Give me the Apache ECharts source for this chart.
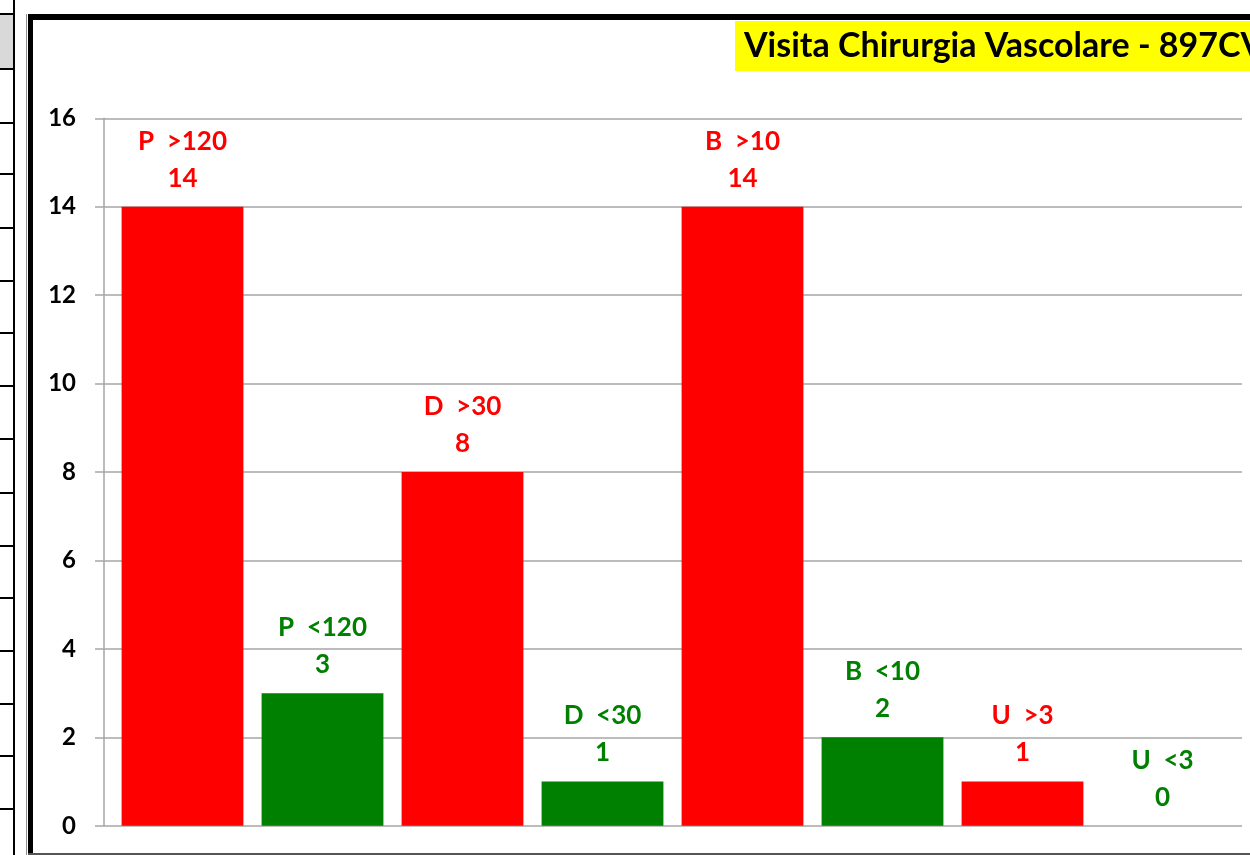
<!DOCTYPE html>
<html>
<head>
<meta charset="utf-8">
<script src="https://cdn.jsdelivr.net/npm/echarts@6/dist/echarts.min.js"></script>
<style>
html,body{margin:0;padding:0;background:#fff;}
#chart{width:1250px;height:855px;}
</style>
</head>
<body>
<div id="chart"></div>
<script>
const categories = ['P  >120', 'P  <120', 'D  >30', 'D  <30', 'B  >10', 'B  <10', 'U  >3', 'U  <3'];
const values = [14, 3, 8, 1, 14, 2, 1, 0];
const barColors = ['#ff0000', '#008000', '#ff0000', '#008000', '#ff0000', '#008000', '#ff0000', '#008000'];
const yTicks = [0, 2, 4, 6, 8, 10, 12, 14, 16];
const titleText = 'Visita Chirurgia Vascolare - 897CV';

const FONT = 'Lato';
const chart = echarts.init(document.getElementById('chart'), null, {renderer: 'canvas'});

// decorative spreadsheet cells on the left
const cellLines = [13, 68, 122, 173, 227, 280, 332, 385, 438, 492, 545, 597, 650, 703, 755, 808];
const graphics = [
  {type: 'rect', shape: {x: 0, y: 13, width: 13, height: 55}, style: {fill: '#d9d9d9'}, silent: true, z: 0},
  {type: 'rect', shape: {x: 13, y: 0, width: 2, height: 855}, style: {fill: '#000'}, silent: true, z: 1}
];
cellLines.forEach(y => graphics.push({type: 'rect', shape: {x: 0, y: y, width: 14, height: 2}, style: {fill: '#000'}, silent: true, z: 1}));
// chart frame
graphics.push({type: 'rect', shape: {x: 26, y: 14, width: 1, height: 841}, style: {fill: '#8c8c8c'}, silent: true, z: 1});
graphics.push({type: 'rect', shape: {x: 28, y: 14, width: 5, height: 841}, style: {fill: '#000'}, silent: true, z: 1});
graphics.push({type: 'rect', shape: {x: 28, y: 14, width: 1222, height: 6}, style: {fill: '#000'}, silent: true, z: 1});
graphics.push({type: 'rect', shape: {x: 28, y: 853, width: 1222, height: 2}, style: {fill: '#555'}, silent: true, z: 1});

const option = {
  backgroundColor: '#fff',
  animation: false,
  title: {
    text: titleText,
    left: 735,
    top: 21,
    padding: [8, 30, 8, 9],
    backgroundColor: '#ffff00',
    textStyle: {fontFamily: FONT, fontWeight: 'bold', fontSize: 34, lineHeight: 34, color: '#000'}
  },
  graphic: graphics,
  grid: [
    {left: 112.5, width: 1120, top: 118.3, height: 707.5, containLabel: false},
    {left: 104, width: 1138, top: 118.3, height: 707.5, containLabel: false}
  ],
  xAxis: [
    {type: 'category', gridIndex: 0, data: categories, show: false, boundaryGap: true},
    {type: 'category', gridIndex: 1, data: categories, show: false}
  ],
  yAxis: [
    {type: 'value', gridIndex: 0, min: yTicks[0], max: yTicks[yTicks.length - 1], interval: 2, show: false},
    {
      type: 'value', gridIndex: 1, min: yTicks[0], max: yTicks[yTicks.length - 1], interval: 2,
      axisLine: {show: true, lineStyle: {color: '#a6a6a6', width: 1.5}},
      axisTick: {show: true, length: 9, lineStyle: {color: '#a6a6a6', width: 1.5}},
      splitLine: {show: true, lineStyle: {color: '#a6a6a6', width: 1.5}},
      axisLabel: {margin: 28, fontFamily: FONT, fontWeight: 'bold', fontSize: 24, color: '#000'}
    }
  ],
  series: [{
    type: 'bar',
    xAxisIndex: 0,
    yAxisIndex: 0,
    data: values.map((v, i) => ({value: v, itemStyle: {color: barColors[i]}, label: {color: barColors[i]}})),
    barCategoryGap: '13%',
    z: 3,
    label: {
      show: true,
      position: 'top',
      distance: 10,
      formatter: '{b}\n{c}',
      fontFamily: FONT,
      fontWeight: 'bold',
      fontSize: 26,
      lineHeight: 37,
      align: 'center'
    }
  }]
};
chart.setOption(option);
</script>
</body>
</html>
